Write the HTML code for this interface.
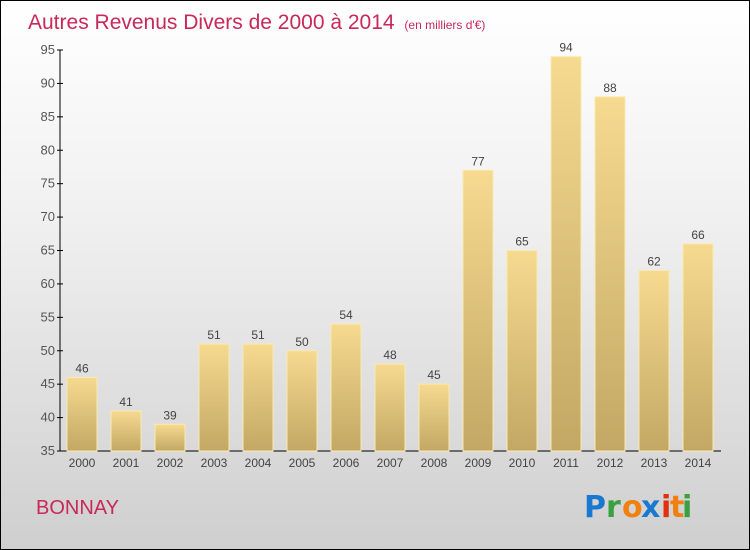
<!DOCTYPE html>
<html><head><meta charset="utf-8"><style>
body{margin:0;padding:0}
#wrap{width:750px;height:550px;position:relative;box-sizing:border-box;border:1px solid #000;background:linear-gradient(#ffffff,#f0f0f0 40%,#cfcfcf);font-family:"Liberation Sans",sans-serif;overflow:hidden}
</style></head><body>
<div id="wrap">
<svg id="chart" width="748" height="548" viewBox="1 1 748 548" style="position:absolute;left:0;top:0">
<defs>
<linearGradient id="bg" x1="0" y1="0" x2="0" y2="1"><stop offset="0" stop-color="#f6da90"/><stop offset="1" stop-color="#c2a864"/></linearGradient>
</defs>
<text x="28" y="29" font-size="21" fill="#c8285a">Autres Revenus Divers de 2000 à 2014 <tspan font-size="12" dx="4">(en milliers d'€)</tspan></text>
<text x="36" y="514" font-size="20" fill="#c8285a">BONNAY</text>
<g font-size="30" font-weight="bold" font-family="'DejaVu Sans',sans-serif">
<text x="584" y="517" fill="#1a78d0">P</text><text x="606" y="517" fill="#3aa040">r</text><text x="622" y="517" fill="#f08010">o</text><text x="641" y="517" fill="#1a78d0">x</text><text x="661" y="517" fill="#e03010">i</text><text x="670" y="517" fill="#f08010">t</text><text x="682" y="517" fill="#3aa040">i</text>
</g>
<g id="axes"></g><g id="bars"></g>
</svg>
</div>
<script>
const categories=["2000","2001","2002","2003","2004","2005","2006","2007","2008","2009","2010","2011","2012","2013","2014"];
const values=[46,41,39,51,51,50,54,48,45,77,65,94,88,62,66];
const yTicks=[35,40,45,50,55,60,65,70,75,80,85,90,95];
const NS="http://www.w3.org/2000/svg";
const y0=451,yTop=50,vMin=35,vMax=95;
function y(v){return y0-(v-vMin)/(vMax-vMin)*(y0-yTop);}
function xc(i){return 82+i*44;}
function mk(t,a,p){const e=document.createElementNS(NS,t);for(const k in a)e.setAttribute(k,a[k]);p.appendChild(e);return e;}
const ax=document.getElementById('axes'),bs=document.getElementById('bars');
let l=mk('line',{x1:60,y1:yTop,x2:60,y2:y0,stroke:'#000'},ax);


l=mk('line',{x1:60,y1:y0,x2:721,y2:y0,stroke:'#000'},ax);


yTicks.forEach(v=>{
 mk('line',{x1:57,y1:y(v),x2:63,y2:y(v),stroke:'#000'},ax);
 const t=mk('text',{x:55,y:y(v)+4,'text-anchor':'end','font-size':13,fill:'#555'},ax);
 t.textContent=v;
 
 
});
categories.forEach((c,i)=>{
 const r=mk('rect',{x:xc(i)-15,y:y(values[i]),width:30,height:y0-y(values[i]),fill:'url(#bg)',stroke:'#fbeab0','stroke-width':1},bs);
 
 
 const t=mk('text',{x:xc(i),y:y(values[i])-5,'text-anchor':'middle','font-size':12,fill:'#444'},bs);
 t.textContent=values[i];
 
 
 const xl=mk('text',{x:xc(i),y:467,'text-anchor':'middle','font-size':12,fill:'#444'},ax);
 xl.textContent=c;
 
 
});
</script>
</body></html>
